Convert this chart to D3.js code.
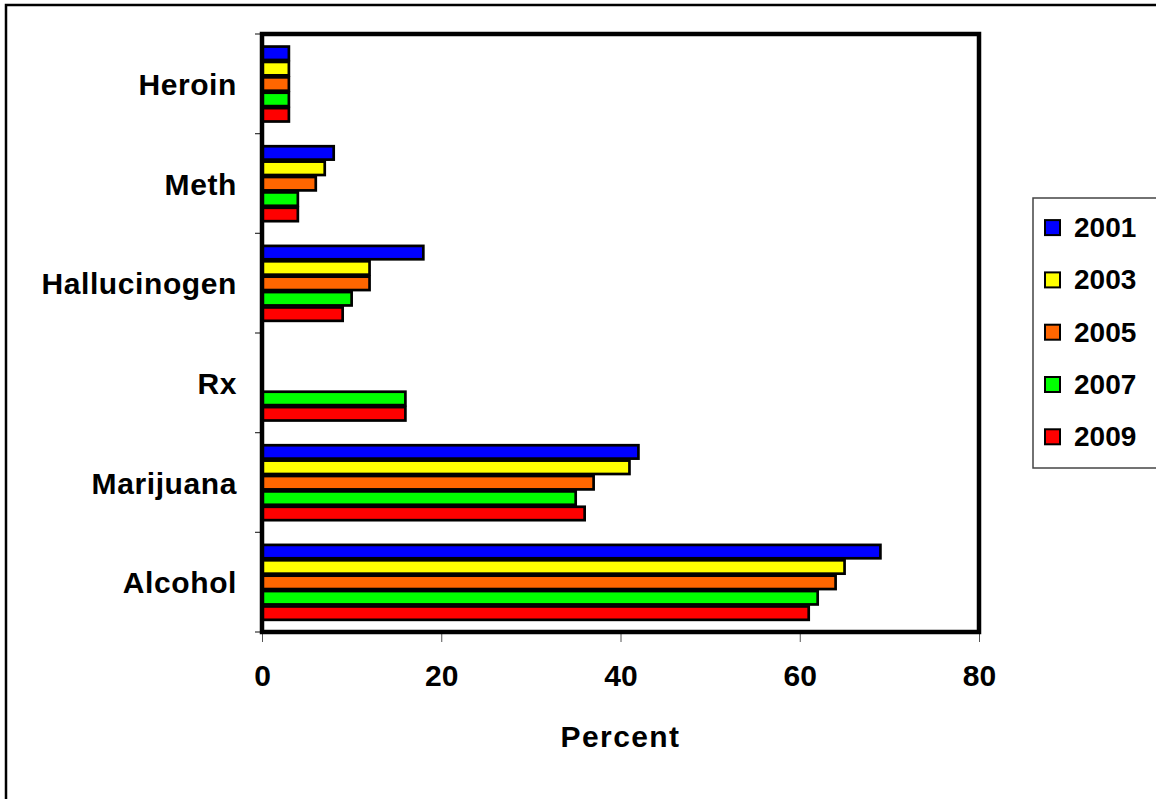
<!DOCTYPE html>
<html>
<head>
<meta charset="utf-8">
<script src="https://cdn.jsdelivr.net/npm/d3@7"></script>
<style>
  html, body { margin: 0; padding: 0; background: #fff; }
  svg { display: block; }
  text { font-family: "Liberation Sans", Arial, sans-serif; font-weight: bold; fill: #000; }
</style>
</head>
<body>
<svg id="chart" width="1156" height="799"></svg>
<script>
// Substances, top to bottom
const categories = ["Heroin", "Meth", "Hallucinogen", "Rx", "Marijuana", "Alcohol"];
// Survey years (one bar per year inside each substance group)
const years = ["2001", "2003", "2005", "2007", "2009"];
const colors = ["#0000ff", "#ffff00", "#ff6600", "#00ff00", "#ff0000"];
// Percent reporting use, by year (null = not asked that year)
const v2001 = [3, 8, 18, null, 42, 69];
const v2003 = [3, 7, 12, null, 41, 65];
const v2005 = [3, 6, 12, null, 37, 64];
const v2007 = [3, 4, 10, 16, 35, 62];
const v2009 = [3, 4, 9, 16, 36, 61];
const seriesValues = [v2001, v2003, v2005, v2007, v2009];
const xTicks = [0, 20, 40, 60, 80];

const svg = d3.select("#chart");

// outer frame of the slide
svg.append("rect")
  .attr("x", 6).attr("y", 5).attr("width", 1170).attr("height", 820)
  .attr("fill", "#fff").attr("stroke", "#000").attr("stroke-width", 2.5);

const plot = { left: 262, right: 979, top: 34, bottom: 632 };

const x = d3.scaleLinear().domain([0, 80]).range([plot.left, plot.right]);
const y0 = d3.scaleBand().domain(categories)
  .range([plot.top, plot.bottom]).paddingInner(0.228).paddingOuter(0.114);
const y1 = d3.scaleBand().domain(years).range([0, y0.bandwidth()]).padding(0);

// bars
const rows = [];
categories.forEach((c, ci) => {
  years.forEach((yr, si) => {
    const v = seriesValues[si][ci];
    if (v != null) rows.push({ cat: c, year: yr, value: v, color: colors[si] });
  });
});

svg.append("g").selectAll("rect").data(rows).join("rect")
  .attr("x", x(0))
  .attr("y", d => y0(d.cat) + y1(d.year) + 1.2)
  .attr("width", d => x(d.value) - x(0))
  .attr("height", y1.bandwidth() - 2)
  .attr("fill", d => d.color)
  .attr("stroke", "#000")
  .attr("stroke-width", 2.7);

// x axis ticks and labels
const xAxis = d3.axisBottom(x).tickValues(xTicks).tickSize(10).tickPadding(22).tickFormat(d3.format("d"));
const gx = svg.append("g").attr("transform", `translate(0,${plot.bottom})`).call(xAxis);
gx.select(".domain").remove();
gx.selectAll(".tick line").attr("stroke", "#555").attr("stroke-width", 1);
gx.selectAll(".tick text").attr("font-size", 30).attr("font-family", "Liberation Sans, Arial, sans-serif")
  .attr("font-weight", "bold").attr("fill", "#000").attr("dy", "0.72em");

// y axis: ticks at category boundaries
const boundaries = d3.range(categories.length + 1).map(i => plot.top + i * y0.step());
svg.append("g").selectAll("line").data(boundaries).join("line")
  .attr("x1", plot.left - 7).attr("x2", plot.left)
  .attr("y1", d => d).attr("y2", d => d)
  .attr("stroke", "#333").attr("stroke-width", 1.2);

// category labels
svg.append("g").selectAll("text").data(categories).join("text")
  .attr("x", 237)
  .attr("y", d => y0(d) + y0.bandwidth() / 2 + 11)
  .attr("text-anchor", "end")
  .attr("font-size", 30)
  .attr("letter-spacing", 0.6)
  .text(d => d);

// plot frame
svg.append("rect")
  .attr("x", plot.left).attr("y", plot.top)
  .attr("width", plot.right - plot.left).attr("height", plot.bottom - plot.top)
  .attr("fill", "none").attr("stroke", "#000").attr("stroke-width", 4.5);

// axis title
svg.append("text")
  .attr("x", (plot.left + plot.right) / 2).attr("y", 747)
  .attr("text-anchor", "middle").attr("font-size", 30).attr("letter-spacing", 1.4)
  .text("Percent");

// legend
const legend = svg.append("g");
legend.append("rect")
  .attr("x", 1033).attr("y", 198).attr("width", 140).attr("height", 270)
  .attr("fill", "#fff").attr("stroke", "#444").attr("stroke-width", 1.5);
const items = legend.selectAll("g.item").data(years).join("g")
  .attr("class", "item")
  .attr("transform", (d, i) => `translate(0,${227.6 + i * 52.3})`);
items.append("rect")
  .attr("x", 1045).attr("y", -7.5).attr("width", 15).attr("height", 15)
  .attr("fill", (d, i) => colors[i]).attr("stroke", "#000").attr("stroke-width", 2);
items.append("text")
  .attr("x", 1074).attr("y", 9.5)
  .attr("font-size", 28)
  .text(d => d);
</script>
</body>
</html>
